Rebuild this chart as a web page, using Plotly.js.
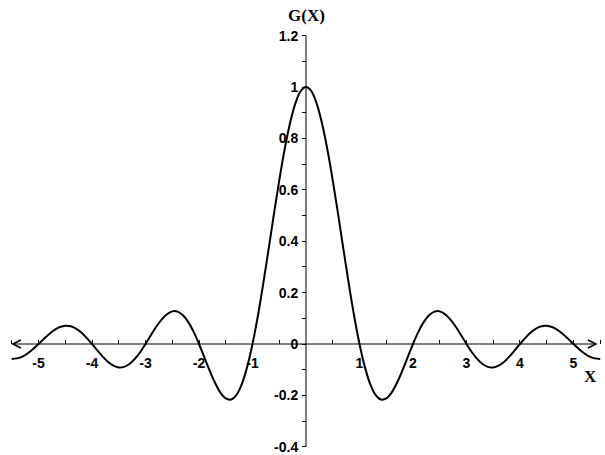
<!DOCTYPE html>
<html>
<head>
<meta charset="utf-8">
<script src="https://cdn.plot.ly/plotly-3.0.1.min.js"></script>
<style>html,body{margin:0;padding:0;background:#fff;}#chart{width:605px;height:455px;}</style>
</head>
<body>
<div id="chart"></div>
<script>
// Curve values
const xValues = [-5.5,-5.4,-5.3,-5.2,-5.1,-5.0,-4.9,-4.8,-4.7,-4.6,-4.5,-4.4,-4.3,-4.2,-4.1,-4.0,-3.9,-3.8,-3.7,-3.6,-3.5,-3.4,-3.3,-3.2,-3.1,-3.0,-2.9,-2.8,-2.7,-2.6,-2.5,-2.4,-2.3,-2.2,-2.1,-2.0,-1.9,-1.8,-1.7,-1.6,-1.5,-1.4,-1.3,-1.2,-1.1,-1.0,-0.9,-0.8,-0.7,-0.6,-0.5,-0.4,-0.3,-0.2,-0.1,0,0.1,0.2,0.3,0.4,0.5,0.6,0.7,0.8,0.9,1.0,1.1,1.2,1.3,1.4,1.5,1.6,1.7,1.8,1.9,2.0,2.1,2.2,2.3,2.4,2.5,2.6,2.7,2.8,2.9,3.0,3.1,3.2,3.3,3.4,3.5,3.6,3.7,3.8,3.9,4.0,4.1,4.2,4.3,4.4,4.5,4.6,4.7,4.8,4.9,5.0,5.1,5.2,5.3,5.4,5.5];
const gValues = [-0.058,-0.056,-0.049,-0.036,-0.019,0,0.020,0.039,0.055,0.066,0.071,0.069,0.060,0.045,0.024,0,-0.025,-0.049,-0.070,-0.084,-0.091,-0.089,-0.078,-0.058,-0.032,0,0.034,0.067,0.095,0.116,0.127,0.126,0.112,0.085,0.047,0,-0.052,-0.104,-0.151,-0.189,-0.212,-0.216,-0.198,-0.156,-0.089,0,0.109,0.234,0.368,0.505,0.637,0.757,0.858,0.935,0.984,1,0.984,0.935,0.858,0.757,0.637,0.505,0.368,0.234,0.109,0,-0.089,-0.156,-0.198,-0.216,-0.212,-0.189,-0.151,-0.104,-0.052,0,0.047,0.085,0.112,0.126,0.127,0.116,0.095,0.067,0.034,0,-0.032,-0.058,-0.078,-0.089,-0.091,-0.084,-0.070,-0.049,-0.025,0,0.024,0.045,0.060,0.069,0.071,0.066,0.055,0.039,0.020,0,-0.019,-0.036,-0.049,-0.056,-0.058];

// Axis ticks and labels
const xTickVals = [-5.5,-5,-4.5,-4,-3.5,-3,-2.5,-2,-1.5,-1,-0.5,0.5,1,1.5,2,2.5,3,3.5,4,4.5,5,5.5];
const xTickText = ['','-5','','-4','','-3','','-2','','-1','','','1','','2','','3','','4','','5',''];
const yTickVals = [-0.4,-0.3,-0.2,-0.1,0,0.1,0.2,0.3,0.4,0.5,0.6,0.7,0.8,0.9,1.0,1.1,1.2];
const yTickText = ['-0.4','','-0.2','','0','','0.2','','0.4','','0.6','','0.8','','1','','1.2'];

const tickFont = {family: 'Arial, Liberation Sans, sans-serif', size: 14, color: '#000', weight: 'bold'};
const titleFont = {family: 'Times New Roman, Liberation Serif, serif', size: 17, color: '#000', weight: 'bold'};

const trace = {
  x: xValues, y: gValues, type: 'scatter', mode: 'lines',
  line: {color: '#000', width: 2, shape: 'spline', smoothing: 1},
  hoverinfo: 'skip'
};

const layout = {
  width: 605, height: 455,
  margin: {l: 0, r: 0, t: 0, b: 0},
  paper_bgcolor: '#fff', plot_bgcolor: '#fff',
  showlegend: false,
  xaxis: {
    range: [-5.72, 5.589], anchor: 'free', position: 0.244,
    showgrid: false, zeroline: false, showline: false,
    tickmode: 'array', tickvals: xTickVals, ticktext: xTickText,
    ticks: 'inside', ticklen: 4, tickwidth: 1, tickcolor: '#000',
    ticklabelstandoff: 9,
    tickfont: tickFont, fixedrange: true
  },
  yaxis: {
    range: [-0.4319, 1.3385], anchor: 'free', position: 0.5058,
    showgrid: false, zeroline: false, showline: false,
    tickmode: 'array', tickvals: yTickVals, ticktext: yTickText,
    ticks: 'outside', ticklen: 4, tickwidth: 1, tickcolor: '#000',
    ticklabelstandoff: 1,
    tickfont: tickFont, fixedrange: true
  },
  shapes: [
    {type: 'line', xref: 'x', yref: 'y', x0: 0, x1: 0, y0: -0.4, y1: 1.2, line: {color: '#000', width: 1}},
    {type: 'line', xref: 'x', yref: 'y', x0: -5.48, x1: 5.42, y0: 0, y1: 0, line: {color: '#000', width: 1}},
    {type: 'path', xref: 'x', yref: 'y', xsizemode: 'pixel', ysizemode: 'pixel', xanchor: -5.48, yanchor: 0,
     path: 'M 8 4 L 0 0 L 8 -4', line: {color: '#000', width: 1.5}},
    {type: 'path', xref: 'x', yref: 'y', xsizemode: 'pixel', ysizemode: 'pixel', xanchor: 5.42, yanchor: 0,
     path: 'M -8 4 L 0 0 L -8 -4', line: {color: '#000', width: 1.5}}
  ],
  annotations: [
    {text: 'G(X)', xref: 'x', yref: 'paper', x: 0, y: 0.967, showarrow: false, font: titleFont, xanchor: 'center', yanchor: 'middle'},
    {text: 'X', xref: 'x', yref: 'paper', x: 5.31, y: 0.1736, showarrow: false, font: titleFont, xanchor: 'center', yanchor: 'middle'}
  ]
};

Plotly.newPlot('chart', [trace], layout, {displayModeBar: false, staticPlot: true});
</script>
</body>
</html>
